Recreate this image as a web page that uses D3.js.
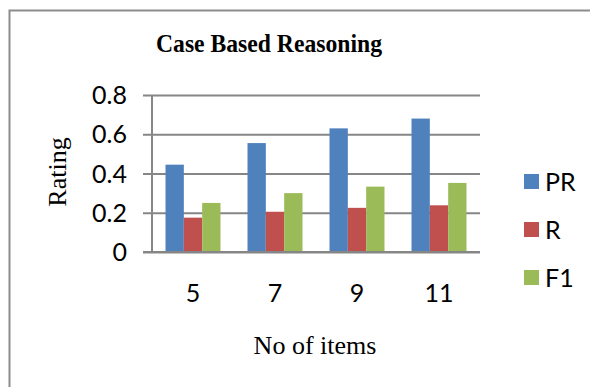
<!DOCTYPE html>
<html>
<head>
<meta charset="utf-8">
<script src="https://cdn.jsdelivr.net/npm/d3@7"></script>
<style>
  html, body { margin: 0; padding: 0; background: #fff; }
  svg { display: block; }
</style>
</head>
<body>
<svg id="chart" width="590" height="387"></svg>
<script>
// Chart data
const categories = ["5", "7", "9", "11"];
const seriesNames = ["PR", "R", "F1"];
const prValues = [0.445, 0.555, 0.63, 0.68];
const rValues = [0.175, 0.205, 0.225, 0.238];
const f1Values = [0.25, 0.30, 0.333, 0.352];
const yTicks = [0, 0.2, 0.4, 0.6, 0.8];

const colors = { PR: "#4F81BD", R: "#C0504D", F1: "#9BBB59" };
const seriesValues = { PR: prValues, R: rValues, F1: f1Values };

const svg = d3.select("#chart");
const gridColor = "#868686";
const sans = "Lato, 'Open Sans', sans-serif";
const serif = "'Liberation Serif', 'Times New Roman', serif";

// Outer chart-area frame
svg.append("rect")
  .attr("x", 9.5).attr("y", 10.5)
  .attr("width", 700).attr("height", 500)
  .attr("fill", "#fff")
  .attr("stroke", "#8c8c8c").attr("stroke-width", 2);

// Title (slightly condensed serif)
svg.append("text")
  .attr("x", 269).attr("y", 52)
  .attr("text-anchor", "middle")
  .attr("font-family", serif).attr("font-weight", "bold")
  .attr("font-size", 25.5)
  .attr("textLength", 226)
  .attr("lengthAdjust", "spacingAndGlyphs")
  .text("Case Based Reasoning");

const plotLeft = 152, plotRight = 480, plotTop = 95, plotBottom = 252;

const y = d3.scaleLinear().domain([0, 0.8]).range([plotBottom, plotTop]);
const x0 = d3.scaleBand().domain(categories).range([plotLeft, plotRight]).padding(0);
const x1 = d3.scaleBand().domain(seriesNames)
  .range([13.5, x0.bandwidth() - 13.5]).padding(0);

// Horizontal gridlines, extending left past the axis as tick marks
const gy = svg.append("g")
  .attr("transform", `translate(${plotRight},0)`)
  .call(d3.axisLeft(y).tickValues(yTicks).tickSize(plotRight - plotLeft + 9).tickFormat(""));
gy.select(".domain").remove();
gy.selectAll(".tick line").attr("stroke", gridColor).attr("stroke-width", 2);

// Y tick labels
svg.append("g").selectAll("text")
  .data(yTicks)
  .join("text")
  .attr("x", 127)
  .attr("y", d => y(d))
  .attr("dy", "0.36em")
  .attr("text-anchor", "end")
  .attr("font-family", sans)
  .attr("font-size", 25)
  .attr("fill", "#000")
  .text(d => d === 0 ? "0" : d3.format(".1f")(d));

// Bars
const groups = svg.append("g").selectAll("g")
  .data(categories)
  .join("g")
  .attr("transform", d => `translate(${x0(d)},0)`);

groups.selectAll("rect")
  .data((c, i) => seriesNames.map(s => ({ s, v: seriesValues[s][i] })))
  .join("rect")
  .attr("x", d => x1(d.s))
  .attr("y", d => y(d.v))
  .attr("width", x1.bandwidth())
  .attr("height", d => y(0) - y(d.v))
  .attr("fill", d => colors[d.s]);

// Value axis line and category axis line
svg.append("line")
  .attr("x1", plotLeft).attr("x2", plotLeft)
  .attr("y1", plotTop).attr("y2", plotBottom)
  .attr("stroke", gridColor).attr("stroke-width", 2);
svg.append("line")
  .attr("x1", plotLeft - 9).attr("x2", plotRight)
  .attr("y1", plotBottom).attr("y2", plotBottom)
  .attr("stroke", gridColor).attr("stroke-width", 2);

// Category labels
svg.append("g").selectAll("text")
  .data(categories)
  .join("text")
  .attr("x", d => x0(d) + x0.bandwidth() / 2)
  .attr("y", 302)
  .attr("text-anchor", "middle")
  .attr("font-family", sans)
  .attr("font-size", 25)
  .text(d => d);

// Axis titles
svg.append("text")
  .attr("x", 315).attr("y", 354)
  .attr("text-anchor", "middle")
  .attr("font-family", serif)
  .attr("font-size", 26)
  .text("No of items");

svg.append("text")
  .attr("transform", "translate(66,172) rotate(-90)")
  .attr("text-anchor", "middle")
  .attr("font-family", serif)
  .attr("font-size", 26)
  .text("Rating");

// Legend
const legend = svg.append("g").selectAll("g")
  .data(seriesNames)
  .join("g")
  .attr("transform", (d, i) => `translate(524,${174 + i * 48})`);
legend.append("rect")
  .attr("width", 15).attr("height", 15)
  .attr("fill", d => colors[d]);
legend.append("text")
  .attr("x", 21).attr("y", 7.5)
  .attr("dy", "0.36em")
  .attr("font-family", sans)
  .attr("font-size", 25)
  .text(d => d);
</script>
</body>
</html>
